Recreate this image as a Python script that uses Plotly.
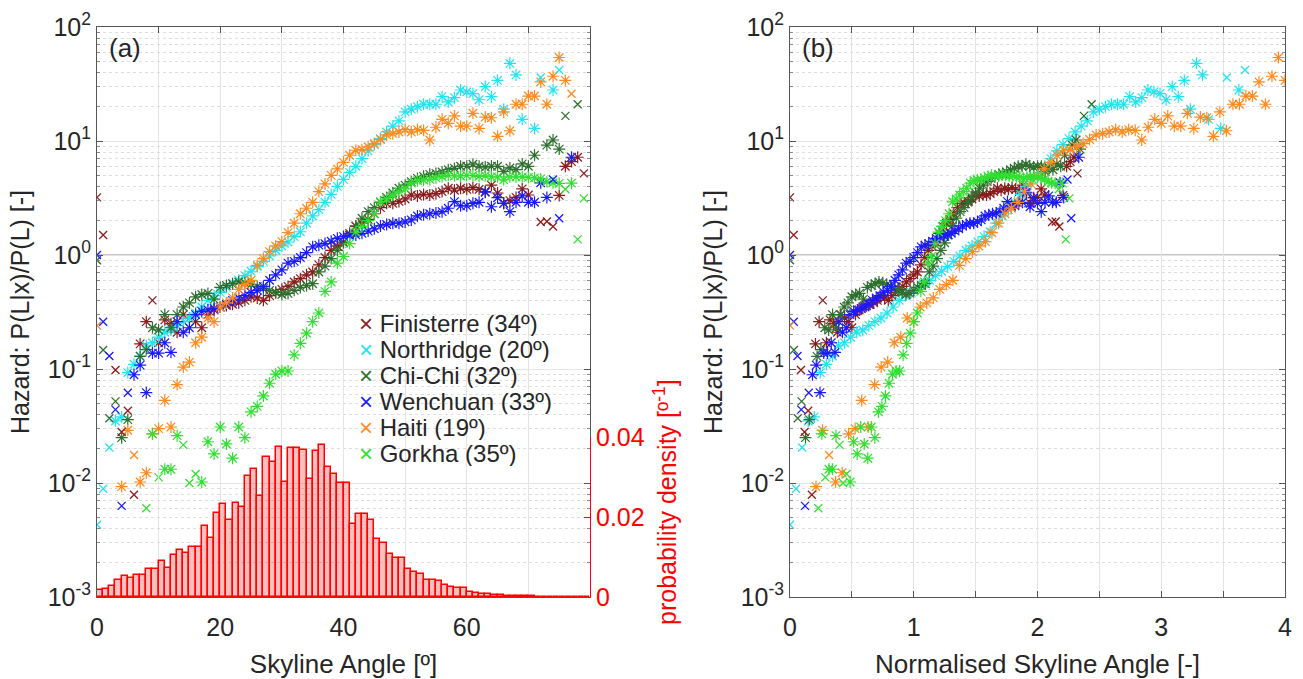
import plotly.graph_objects as go

# ---------------- data ----------------
series_names = ["Finisterre (34º)", "Northridge (20º)", "Chi-Chi (32º)",
                "Wenchuan (33º)", "Haiti (19º)", "Gorkha (35º)"]
series_colors = ["#8b1c1c", "#22e4f0", "#2f6f2f", "#1a1aff", "#ff8a1e", "#30e030"]
norm_angles = [34, 20.4, 32, 33, 19, 35]

# Finisterre
fin_ang = [7, 8, 10, 11, 12, 13, 14, 15, 16, 17, 18, 19, 20, 21, 22, 23, 24, 25, 26, 27, 28, 29,
           30, 31, 32, 33, 34, 35, 36, 37, 38, 39, 40, 41, 42, 43, 44, 45, 46, 47, 48, 49, 50, 51,
           52, 53, 54, 55, 56, 57, 58, 59, 60, 61, 62, 63, 64, 65, 66, 67, 68, 69, 70, 75, 76, 77, 78]
fin_haz = [0.166, 0.26, 0.17, 0.27, 0.25, 0.21, 0.30, 0.28, 0.26, 0.23, 0.30, 0.33, 0.35, 0.36,
           0.37, 0.38, 0.40, 0.43, 0.42, 0.40, 0.44, 0.47, 0.50, 0.53, 0.58, 0.62, 0.67, 0.71, 0.82,
           0.95, 1.1, 1.2, 1.3, 1.55, 1.78, 1.9, 2.05, 2.3, 2.6, 2.84, 2.84, 2.95, 3.1, 3.36, 3.3,
           3.4, 3.36, 3.45, 3.6, 3.85, 3.7, 3.85, 3.77, 3.9, 3.77, 3.6, 4.1, 3.5, 2.84, 3.0, 3.2,
           3.8, 3.36, 3.33, 6.0, 6.6, 7.2]
fin_x_ang = [0, 1, 3, 4, 5, 6, 9, 72, 73, 74, 79]
fin_x_haz = [3.2, 1.5, 0.098, 0.028, 0.043, 0.0079, 0.40, 1.95, 1.97, 1.78, 5.2]

# Northridge
nor_ang = [3, 4, 5, 6, 7, 8, 9, 10, 11, 12, 13, 14, 15, 16, 17, 18, 19, 20, 21, 22, 23, 24, 25,
           26, 27, 28, 29, 30, 31, 32, 33, 34, 35, 36, 37, 38, 39, 40, 41, 42, 43, 44, 45, 46, 47,
           48, 49, 50, 51, 52, 53, 54, 55, 56, 57, 58, 59, 60, 61, 62, 63, 64, 65, 66, 67, 68, 69,
           71, 74]
nor_haz = [0.035, 0.038, 0.093, 0.11, 0.13, 0.16, 0.17, 0.19, 0.21, 0.22, 0.24, 0.26, 0.28, 0.31,
           0.35, 0.40, 0.44, 0.47, 0.52, 0.56, 0.60, 0.66, 0.72, 0.79, 0.88, 0.98, 1.1, 1.2, 1.3,
           1.45, 1.6, 1.9, 2.2, 2.5, 2.9, 3.4, 4.0, 4.6, 5.3, 6.0, 7.0, 8.2, 9.3, 10.5, 12, 13.5,
           15, 18, 19, 20, 21, 21, 21, 24.5, 22, 24, 28, 27, 26, 23, 30, 24.5, 34, 19, 48, 38,
           15.5, 12.9, 28]
nor_x_ang = [0, 1, 2, 72, 75]
nor_x_haz = [0.0043, 0.0089, 0.0205, 36, 42]

# Chi-Chi
chi_ang = [4, 5, 7, 8, 9, 10, 11, 12, 13, 14, 15, 16, 17, 18, 19, 20, 21, 22, 23, 24, 25, 26, 27,
           28, 29, 30, 31, 32, 33, 34, 35, 36, 37, 38, 39, 40, 41, 42, 43, 44, 45, 46, 47, 48, 49,
           50, 51, 52, 53, 54, 55, 56, 57, 58, 59, 60, 61, 62, 63, 64, 65, 66, 67, 68, 69, 70, 71,
           73, 74, 75]
chi_haz = [0.025, 0.036, 0.129, 0.148, 0.23, 0.22, 0.30, 0.23, 0.30, 0.35, 0.38, 0.43, 0.45, 0.46,
           0.41, 0.52, 0.54, 0.56, 0.58, 0.57, 0.55, 0.53, 0.51, 0.49, 0.47, 0.45, 0.46, 0.49, 0.52,
           0.54, 0.56, 0.71, 0.80, 0.93, 1.1, 1.28, 1.5, 1.8, 2.1, 2.4, 2.6, 2.9, 3.2, 3.5, 3.85,
           4.1, 4.4, 4.7, 4.9, 5.1, 5.2, 5.35, 5.6, 5.75, 6.0, 6.0, 6.25, 6.0, 5.9, 6.0, 6.0, 5.4,
           5.8, 5.6, 6.3, 6.0, 7.5, 9.2, 10.2, 8.5]
chi_x_ang = [0, 1, 2, 3, 76, 78]
chi_x_haz = [0.90, 0.147, 0.037, 0.052, 16.6, 21]

# Wenchuan
wen_ang = [6, 7, 8, 9, 10, 11, 12, 13, 14, 15, 16, 17, 18, 19, 20, 21, 22, 23, 24, 25, 26, 27, 28,
           29, 30, 31, 32, 33, 34, 35, 36, 37, 38, 39, 40, 41, 42, 43, 44, 45, 46, 47, 48, 49, 50,
           51, 52, 53, 54, 55, 56, 57, 58, 59, 60, 61, 62, 63, 64, 65, 66, 67, 68, 69, 70, 71, 72,
           73, 77]
wen_haz = [0.089, 0.108, 0.062, 0.138, 0.138, 0.17, 0.14, 0.26, 0.21, 0.23, 0.30, 0.32, 0.33,
           0.34, 0.35, 0.37, 0.40, 0.42, 0.44, 0.47, 0.49, 0.53, 0.60, 0.67, 0.74, 0.85, 0.88,
           0.95, 1.05, 1.18, 1.22, 1.26, 1.32, 1.4, 1.45, 1.48, 1.5, 1.55, 1.62, 1.7, 1.8, 1.85,
           1.9, 1.9, 1.95, 2.03, 2.2, 2.25, 2.3, 2.33, 2.4, 2.57, 2.94, 2.7, 2.7, 2.84, 2.9, 3.55,
           2.65, 3.18, 2.84, 2.4, 2.9, 3.3, 2.9, 2.9, 4.3, 3.2, 7.2]
wen_x_ang = [0, 1, 2, 3, 4, 5, 74, 75]
wen_x_haz = [1.0, 0.26, 0.13, 0.044, 0.0063, 0.062, 4.6, 2.1]

# Haiti
hai_ang = [4, 5, 7, 8, 9, 10, 11, 12, 13, 14, 15, 16, 17, 18, 19, 20, 21, 22, 23, 24, 25, 26, 27,
           28, 29, 30, 31, 32, 33, 34, 35, 36, 37, 38, 39, 40, 41, 42, 43, 44, 45, 46, 47, 48, 49,
           50, 51, 52, 53, 54, 55, 56, 57, 58, 59, 60, 61, 62, 63, 64, 65, 66, 67, 68, 69, 70, 71,
           72, 73, 74, 75, 76]
hai_haz = [0.0093, 0.029, 0.0102, 0.0123, 0.027, 0.030, 0.053, 0.031, 0.073, 0.104, 0.115, 0.17,
           0.19, 0.28, 0.26, 0.35, 0.38, 0.42, 0.50, 0.55, 0.60, 0.81, 0.93, 1.07, 1.2, 1.31,
           1.57, 1.9, 2.3, 2.57, 2.9, 3.6, 4.2, 5.0, 5.7, 6.5, 7.5, 8.3, 8.4, 8.9, 9.5, 10.3,
           11.3, 11.6, 12, 12.6, 12, 12.6, 12.4, 10.2, 13.2, 15.5, 14.3, 16.6, 13.5, 13.5, 17.5,
           12.9, 16.2, 16, 11, 18, 12.3, 21, 21, 24.8, 24.8, 33, 21, 37, 54, 34]
hai_x_ang = [0, 6, 77]
hai_x_haz = [0.24, 0.0176, 26]

# Gorkha
gor_ang = [9, 11, 12, 13, 17, 18, 19, 20, 21, 22, 23, 24, 25, 26, 27, 28, 29, 30, 31, 32, 33, 34,
           35, 36, 37, 38, 39, 40, 41, 42, 43, 44, 45, 46, 47, 48, 49, 50, 51, 52, 53, 54, 55, 56,
           57, 58, 59, 60, 61, 62, 63, 64, 65, 66, 67, 68, 69, 70, 71, 72, 73, 74, 75, 77]
gor_haz = [0.027, 0.0132, 0.0132, 0.026, 0.0102, 0.023, 0.018, 0.031, 0.022, 0.0165, 0.031,
           0.025, 0.042, 0.047, 0.058, 0.075, 0.090, 0.096, 0.096, 0.133, 0.168, 0.206, 0.26,
           0.31, 0.48, 0.58, 0.85, 0.97, 1.26, 1.59, 1.78, 2.0, 2.3, 2.93, 3.1, 3.36, 3.6, 3.85,
           4.27, 4.5, 4.55, 4.6, 4.75, 4.87, 5.0, 4.95, 4.93, 5.0, 5.0, 4.9, 4.95, 4.85, 4.85,
           4.57, 4.85, 4.85, 4.85, 4.8, 4.75, 4.65, 4.4, 4.3, 4.25, 4.27]
gor_x_ang = [8, 10, 14, 15, 16, 76, 78, 79]
gor_x_haz = [0.0060, 0.0112, 0.0216, 0.010, 0.012, 3.77, 1.37, 3.14]

# Skyline angle probability density (1 degree bins)
hist_bin_start = list(range(80))
hist_density = [0.0018, 0.0020, 0.0028, 0.0042, 0.0052, 0.0048, 0.0054, 0.0054, 0.0071, 0.0070,
                0.0089, 0.0072, 0.0104, 0.0117, 0.0110, 0.0125, 0.0125, 0.0178, 0.0148, 0.0211,
                0.0233, 0.0193, 0.0236, 0.0225, 0.0302, 0.0319, 0.0252, 0.0350, 0.0337, 0.0375,
                0.0287, 0.0373, 0.0373, 0.0368, 0.0295, 0.0366, 0.0380, 0.0325, 0.0308, 0.0285,
                0.0285, 0.0183, 0.0208, 0.0208, 0.0192, 0.0144, 0.0136, 0.0108, 0.0098, 0.0098,
                0.0071, 0.0063, 0.0058, 0.0043, 0.0043, 0.0039, 0.0029, 0.0025, 0.0023, 0.0023,
                0.0013, 0.0011, 0.0008, 0.0007, 0.0005, 0.0004, 0.0003, 0.0003, 0.0002, 0.0002,
                0.00015, 0.00012, 0.0001, 0.0001, 0.00008, 0.00006, 0.00005, 0.00004, 0.00003, 0.00002]

hazard_tick_vals = [1e-3, 1e-2, 1e-1, 1, 10, 100]
hazard_tick_text = ["10<sup>-3</sup>", "10<sup>-2</sup>", "10<sup>-1</sup>",
                    "10<sup>0</sup>", "10<sup>1</sup>", "10<sup>2</sup>"]
angle_tick_vals = [0, 20, 40, 60]
angle_tick_text = ["0", "20", "40", "60"]
norm_tick_vals = [0, 1, 2, 3, 4]
norm_tick_text = ["0", "1", "2", "3", "4"]
dens_tick_vals = [0, 0.02, 0.04]
dens_tick_text = ["0", "0.02", "0.04"]

star_sets = [(fin_ang, fin_haz), (nor_ang, nor_haz), (chi_ang, chi_haz),
             (wen_ang, wen_haz), (hai_ang, hai_haz), (gor_ang, gor_haz)]
cross_sets = [(fin_x_ang, fin_x_haz), (nor_x_ang, nor_x_haz), (chi_x_ang, chi_x_haz),
              (wen_x_ang, wen_x_haz), (hai_x_ang, hai_x_haz), (gor_x_ang, gor_x_haz)]

# ---------------- figure ----------------
FONT = "Liberation Sans, Arial, sans-serif"
TXT = "#262626"
fig = go.Figure()

fig.add_trace(go.Bar(
    x=hist_bin_start, y=hist_density, width=1, offset=0,
    marker=dict(color="rgba(255,0,0,0.25)", line=dict(color="#ff0000", width=1.5)),
    xaxis="x", yaxis="y2", showlegend=False, hoverinfo="skip"))

star_size, cross_size = 10, 8
for panel in (0, 1):
    xa, ya = ("x", "y") if panel == 0 else ("x2", "y3")
    for i in range(6):
        col = series_colors[i]
        ang, haz = star_sets[i]
        xs = ang if panel == 0 else [a / norm_angles[i] for a in ang]
        fig.add_trace(go.Scatter(
            x=xs, y=haz, mode="markers", xaxis=xa, yaxis=ya, showlegend=False,
            name=series_names[i],
            marker=dict(symbol="asterisk-open", size=star_size, color=col,
                        line=dict(color=col, width=1.2))))
    for i in range(6):
        col = series_colors[i]
        ang, haz = cross_sets[i]
        xs = ang if panel == 0 else [a / norm_angles[i] for a in ang]
        fig.add_trace(go.Scatter(
            x=xs, y=haz, mode="markers", xaxis=xa, yaxis=ya, name=series_names[i],
            showlegend=False,
            marker=dict(symbol="x-thin-open", size=cross_size, color=col,
                        line=dict(color=col, width=1.3))))

L, R = 97, 1285
W = R - L
H = 570
dom_a = [0, (590 - L) / W]
dom_b = [(790 - L) / W, 1]

GRID = "#e4e4e4"
common_x = dict(showline=True, linecolor="#555", linewidth=1, mirror="ticks", ticks="inside",
                ticklen=6, tickcolor="#555", showgrid=True, gridcolor=GRID, gridwidth=1,
                zeroline=False, tickfont=dict(size=25, color=TXT, family=FONT),
                tickmode="array", ticklabelstandoff=8, automargin=False)
common_y = dict(type="log", range=[-3, 2], showline=True, linecolor="#555", linewidth=1,
                mirror="ticks", ticks="inside", ticklen=6, tickcolor="#555", showgrid=True,
                gridcolor=GRID, gridwidth=1, zeroline=False, automargin=False,
                tickfont=dict(size=25, color=TXT, family=FONT), tickmode="array",
                tickvals=hazard_tick_vals, ticktext=hazard_tick_text,
                minor=dict(dtick="D1", ticks="inside", ticklen=3, tickcolor="#888",
                           showgrid=True, gridcolor="#dedede", griddash="dot", gridwidth=1),
                title=dict(text="Hazard: P(L|x)/P(L) [-]", font=dict(size=25, color=TXT, family=FONT),
                           standoff=10))

fig.update_layout(
    width=1303, height=679, margin=dict(l=L, r=1303 - R, t=27, b=82),
    paper_bgcolor="white", plot_bgcolor="rgba(0,0,0,0)",
    font=dict(family=FONT, color=TXT),
    bargap=0, showlegend=False,
    xaxis=dict(domain=dom_a, range=[0, 80], anchor="y", tickvals=angle_tick_vals,
               ticktext=angle_tick_text,
               minor=dict(tickmode="linear", dtick=10, tick0=0, ticks="inside", ticklen=6,
                          tickcolor="#555", showgrid=True, gridcolor=GRID, gridwidth=1),
               title=dict(text="Skyline Angle [º]", font=dict(size=26, color=TXT, family=FONT),
                          standoff=14), **common_x),
    yaxis=dict(domain=[0, 1], anchor="x", **common_y),
    yaxis2=dict(domain=[0, 0.04 / 0.1425], range=[0, 0.04], anchor="x", side="right",
                showline=True, linecolor="#ff0000", linewidth=1, ticks="inside", ticklen=6,
                tickcolor="#ff0000", showgrid=False, zeroline=False, tickmode="array",
                tickvals=dens_tick_vals, ticktext=dens_tick_text, automargin=False,
                tickfont=dict(size=25, color="#ff0000", family=FONT)),
    xaxis2=dict(domain=dom_b, range=[0, 4], anchor="y3", tickvals=norm_tick_vals,
                ticktext=norm_tick_text,
                minor=dict(tickmode="linear", dtick=0.5, tick0=0, ticks="inside", ticklen=6,
                           tickcolor="#555", showgrid=True, gridcolor=GRID, gridwidth=1),
                title=dict(text="Normalised Skyline Angle [-]",
                           font=dict(size=26, color=TXT, family=FONT), standoff=14), **common_x),
    yaxis3=dict(domain=[0, 1], anchor="x2", **common_y),
)

# darker reference line at hazard = 1 in both panels
for xr, yr in (("x domain", "y"), ("x2 domain", "y3")):
    fig.add_shape(type="line", xref=xr, yref=yr, x0=0, x1=1, y0=1, y1=1,
                  line=dict(color="#8a8a8a", width=1.2), layer="below")

# legend (coloured cross + series name)
legend_rows_px = [323, 349, 375, 401, 427, 453]
for name, col, ypx in zip(series_names, series_colors, legend_rows_px):
    fig.add_annotation(text=f'<span style="color:{col}">×</span> {name}',
                       xref="paper", yref="paper", x=(357 - L) / W, y=(597 - ypx) / H,
                       xanchor="left", yanchor="middle", showarrow=False, height=26,
                       valign="middle", font=dict(size=24, color=TXT, family=FONT))

fig.add_annotation(text="(a)", xref="paper", yref="paper", x=(107 - L) / W, y=(597 - 48) / H,
                   xanchor="left", yanchor="middle", showarrow=False,
                   font=dict(size=26, color=TXT, family=FONT))
fig.add_annotation(text="(b)", xref="paper", yref="paper", x=(800 - L) / W, y=(597 - 48) / H,
                   xanchor="left", yanchor="middle", showarrow=False,
                   font=dict(size=26, color=TXT, family=FONT))
fig.add_annotation(text="probability density [º<sup>-1</sup>]", xref="paper", yref="paper",
                   x=(665 - L) / W, y=(597 - 502) / H, xanchor="center", yanchor="middle",
                   textangle=-90, showarrow=False,
                   font=dict(size=25, color="#ff0000", family=FONT))

fig.write_html("out.html")
